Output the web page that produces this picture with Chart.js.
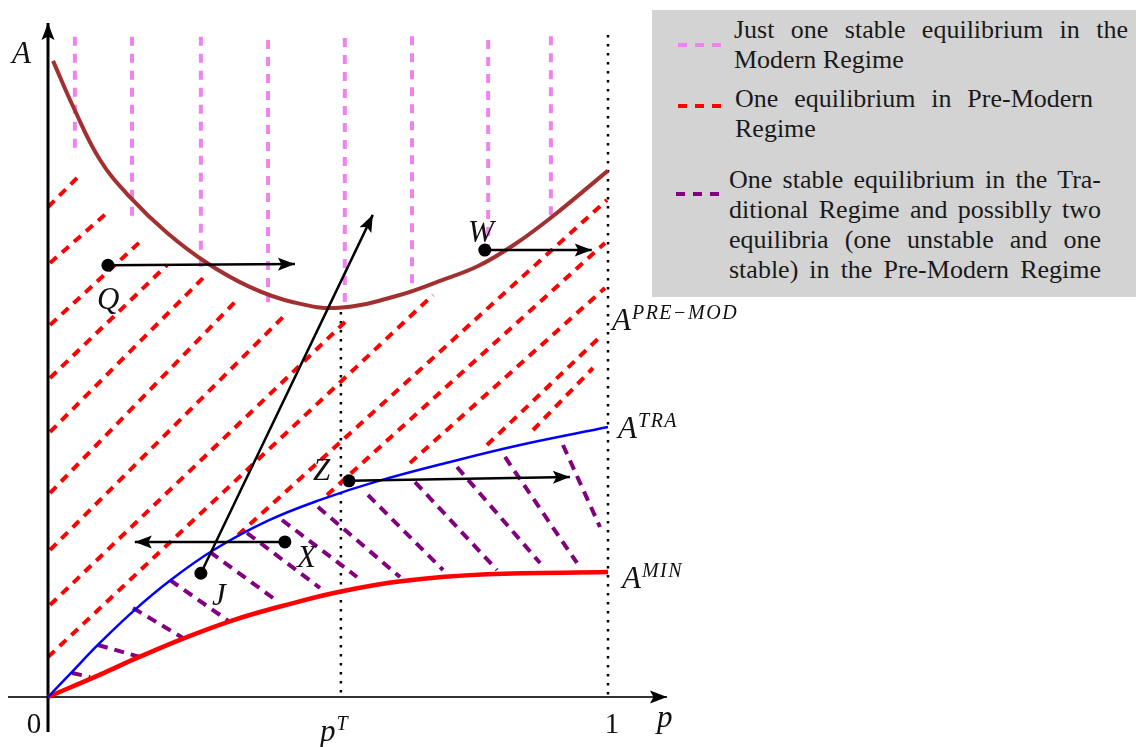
<!DOCTYPE html>
<html>
<head>
<meta charset="utf-8">
<title>Equilibria in the (p, A) plane</title>
<script src="https://cdn.jsdelivr.net/npm/chart.js@4.4.1/dist/chart.umd.min.js"></script>
<style>
  html, body { margin: 0; background: #fff; }
  #wrap { position: relative; width: 1136px; height: 747px; }
  #legend {
    position: absolute; left: 652px; top: 10px; width: 484px; height: 287px;
    background: #d3d3d3; color: #1a1a1a;
    font-family: "Liberation Serif", "Times New Roman", Times, serif; font-size: 26px; line-height: 30px;
  }
  .item { position: absolute; }
  .item div { white-space: nowrap; }
  .item div.j { text-align: justify; text-align-last: justify; white-space: normal; }
  .sample { position: absolute; width: 44px; height: 4px; }
</style>
</head>
<body>
<div id="wrap">
  <canvas id="c" width="1136" height="747"></canvas>
  <div id="legend"></div>
</div>
<script>
// ---- data (p on x, A on y) ----
const brownP = [0.009, 0.045, 0.093, 0.146, 0.2125, 0.284, 0.361, 0.438, 0.52, 0.625, 0.70, 0.769, 0.833, 0.902, 1.0];
const brownA = [1.136, 1.054, 0.959, 0.893, 0.829, 0.775, 0.732, 0.705, 0.695, 0.717, 0.743, 0.770, 0.808, 0.859, 0.94];

const blueP = [0, 0.043, 0.089, 0.152, 0.218, 0.295, 0.391, 0.486, 0.5875, 0.723, 0.843, 1.0];
const blueA = [0, 0.045, 0.093, 0.153, 0.208, 0.262, 0.314, 0.352, 0.385, 0.421, 0.450, 0.482];

const minP = [0, 0.093, 0.164, 0.248, 0.330, 0.420, 0.521, 0.634, 0.784, 1.0];
const minA = [0, 0.040, 0.072, 0.107, 0.137, 0.163, 0.188, 0.207, 0.219, 0.223];

// pink verticals: p, top A, bottom A
const pinkP      = [0.048, 0.15, 0.273, 0.393, 0.530, 0.65, 0.786, 0.898];
const pinkTop    = [1.179, 1.179, 1.179, 1.173, 1.177, 1.18, 1.173, 1.18];
const pinkBottom = [0.977, 0.852, 0.759, 0.705, 0.700, 0.730, 0.786, 0.852];

// red hatch segments [p0, A0, p1, A1]
const redHatch = [
  [0.0, 0.875, 0.0536, 0.9286],
  [0.0036, 0.775, 0.1071, 0.8661],
  [0.0036, 0.6643, 0.1679, 0.8161],
  [0.0036, 0.5696, 0.2125, 0.7714],
  [0.0036, 0.4732, 0.2768, 0.7482],
  [0.0036, 0.3643, 0.3339, 0.7054],
  [0.0036, 0.2625, 0.4232, 0.6821],
  [0.0036, 0.1643, 0.5304, 0.6696],
  [0.0, 0.0714, 0.6875, 0.7179],
  [0.3393, 0.2893, 0.9982, 0.8875],
  [0.4982, 0.3607, 0.9946, 0.8107],
  [0.6464, 0.4179, 0.9946, 0.7304],
  [0.7839, 0.4500, 0.9893, 0.6464],
  [0.8661, 0.4768, 0.9732, 0.5875],
];

// purple hatch segments [p0, A0, p1, A1]
const purpleHatch = [
  [0.0429, 0.0429, 0.075, 0.0357],
  [0.0893, 0.0929, 0.1643, 0.0714],
  [0.1518, 0.1589, 0.2411, 0.1054],
  [0.2179, 0.2089, 0.325, 0.1339],
  [0.2893, 0.2589, 0.4018, 0.1768],
  [0.3554, 0.2929, 0.4857, 0.1946],
  [0.4179, 0.3161, 0.5518, 0.2143],
  [0.4821, 0.3393, 0.6286, 0.2143],
  [0.5714, 0.3607, 0.7054, 0.2268],
  [0.6554, 0.3839, 0.8018, 0.2268],
  [0.7304, 0.4107, 0.8786, 0.2393],
  [0.8161, 0.4286, 0.9446, 0.2393],
  [0.9196, 0.4500, 0.9857, 0.3036],
];

// dotted guides [p, A top, A bottom]
const guides = [[0.523, 0.6875, 0], [1.0, 1.182, 0]];

// moves: start dot -> arrow tip
const moves = [
  [0.273, 0.221, 0.580, 0.861],   // J
  [0.107, 0.771, 0.441, 0.773],   // Q
  [0.780, 0.798, 0.971, 0.798],   // W
  [0.5375, 0.386, 0.932, 0.393],  // Z
  [0.423, 0.277, 0.155, 0.277],   // X
];

const mathLabels = [
  { t: "A", p: -0.0643, a: 1.132 },
  { t: "Q", p: 0.0875, a: 0.693 },
  { t: "W", p: 0.750, a: 0.8125 },
  { t: "Z", p: 0.473, a: 0.3875 },
  { t: "X", p: 0.4446, a: 0.232 },
  { t: "J", p: 0.293, a: 0.164 },
  { t: "A", sup: "PRE\u2212MOD", p: 1.0071, a: 0.655 },
  { t: "A", sup: "TRA", p: 1.018, a: 0.4625 },
  { t: "A", sup: "MIN", p: 1.025, a: 0.1946 },
  { t: "p", sup: "T", p: 0.4857, a: -0.0786 },
  { t: "p", p: 1.0875, a: -0.0536 },
];
const tickLabels = [{ t: "0", p: -0.025, a: -0.0643 }, { t: "1", p: 1.0071, a: -0.0643 }];

const legendText = [
  ["Just one stable equilibrium in the", "Modern Regime"],
  ["One equilibrium in Pre-Modern", "Regime"],
  ["One stable equilibrium in the Tra-", "ditional Regime and possiblly two",
   "equilibria (one unstable and one", "stable) in the Pre-Modern Regime"],
];

const C = { pink: "#ee82ee", red: "#ff0000", purple: "#800080", blue: "#0000ff", brown: "#a33030", ink: "#000" };
const SERIF = '"Liberation Serif", "Times New Roman", Times, serif';

// ---- datasets, listed bottom -> top ----
const xy = (ps, as) => ps.map((p, i) => ({ x: p, y: as[i] }));
function line(data, color, width, dash, extra) {
  return Object.assign({
    data, showLine: true, borderColor: color, borderWidth: width, borderDash: dash || [],
    pointRadius: 0, fill: false, clip: false, tension: 0,
  }, extra || {});
}
const curve = { tension: 0.4 };

const layers = [];
guides.forEach(g => layers.push(line([{ x: g[0], y: g[1] }, { x: g[0], y: g[2] }], C.ink, 2.5, [2.5, 6.5])));
pinkP.forEach((p, i) => layers.push(line([{ x: p, y: pinkTop[i] }, { x: p, y: pinkBottom[i] }], C.pink, 4, [9, 8])));
redHatch.forEach(s => layers.push(line([{ x: s[0], y: s[1] }, { x: s[2], y: s[3] }], C.red, 4, [9, 7])));
purpleHatch.forEach(s => layers.push(line([{ x: s[0], y: s[1] }, { x: s[2], y: s[3] }], C.purple, 4, [10, 7])));
layers.push(line([{ x: -0.0714, y: 0 }, { x: 1.1054, y: 0 }], "#333", 2, null, { arrowHead: true }));
layers.push(line([{ x: 0, y: -0.0625 }, { x: 0, y: 1.2036 }], C.ink, 3, null, { arrowHead: true }));
layers.push(line(xy(minP, minA), C.red, 4.5, null, curve));
layers.push(line(xy(blueP, blueA), C.blue, 2.5, null, curve));
layers.push(line(xy(brownP, brownA), C.brown, 4, null, curve));
moves.forEach(m => layers.push(line([{ x: m[0], y: m[1] }, { x: m[2], y: m[3] }], C.ink, 2.5, null, {
  arrowHead: true, pointRadius: [6.5, 0], pointBackgroundColor: C.ink, pointBorderWidth: 0,
})));
layers.forEach((d, i) => { d.order = layers.length - i; });

// ---- plugins ----
const arrowHeads = {
  id: "arrowHeads",
  afterDatasetsDraw(chart) {
    const ctx = chart.ctx;
    chart.data.datasets.forEach((ds, i) => {
      if (!ds.arrowHead) return;
      const pts = chart.getDatasetMeta(i).data;
      const a = pts[pts.length - 2], b = pts[pts.length - 1];
      const ang = Math.atan2(b.y - a.y, b.x - a.x);
      const len = 17, half = 6.5, c = Math.cos(ang), s = Math.sin(ang);
      ctx.save();
      ctx.fillStyle = "#000";
      ctx.beginPath();
      ctx.moveTo(b.x, b.y);
      ctx.lineTo(b.x - len * c + half * s, b.y - len * s - half * c);
      ctx.lineTo(b.x - len * c * 0.8, b.y - len * s * 0.8);
      ctx.lineTo(b.x - len * c - half * s, b.y - len * s + half * c);
      ctx.closePath();
      ctx.fill();
      ctx.restore();
    });
  },
};

const textLabels = {
  id: "textLabels",
  afterDraw(chart) {
    const { ctx, scales: { x, y } } = chart;
    ctx.save();
    ctx.fillStyle = "#111";
    ctx.textBaseline = "alphabetic";
    mathLabels.forEach(l => {
      const px = x.getPixelForValue(l.p), py = y.getPixelForValue(l.a);
      ctx.textAlign = "left";
      ctx.letterSpacing = "0px";
      ctx.font = "italic 31px " + SERIF;
      ctx.fillText(l.t, px, py);
      if (l.sup) {
        const w = ctx.measureText(l.t).width;
        ctx.font = "italic 20px " + SERIF;
        ctx.letterSpacing = "1.5px";
        ctx.fillText(l.sup, px + w + 1, py - 11);
      }
    });
    ctx.letterSpacing = "0px";
    ctx.font = "29px " + SERIF;
    ctx.textAlign = "center";
    tickLabels.forEach(l => ctx.fillText(l.t, x.getPixelForValue(l.p), y.getPixelForValue(l.a)));
    ctx.restore();
  },
};

new Chart(document.getElementById("c"), {
  type: "scatter",
  data: { datasets: layers },
  options: {
    responsive: false, animation: false, events: [],
    layout: { padding: 0, autoPadding: false },
    plugins: { legend: { display: false }, tooltip: { enabled: false } },
    scales: {
      x: { type: "linear", display: false, min: -48 / 560, max: 1088 / 560 },
      y: { type: "linear", display: false, min: -50 / 560, max: 697 / 560 },
    },
  },
  plugins: [arrowHeads, textLabels],
});

// ---- legend box ----
const legendColors = [C.pink, C.red, C.purple];
const legendLayout = [
  { top: 5, left: 82, width: 394, sampleTop: 33, sampleLeft: 26 },
  { top: 74, left: 83, width: 358, sampleTop: 94, sampleLeft: 26 },
  { top: 155, left: 77, width: 372, sampleTop: 182, sampleLeft: 24 },
];
const box = document.getElementById("legend");
legendText.forEach((lines, i) => {
  const L = legendLayout[i];
  const s = document.createElement("div");
  s.className = "sample";
  s.style.left = L.sampleLeft + "px";
  s.style.top = L.sampleTop + "px";
  s.style.background = `repeating-linear-gradient(90deg, ${legendColors[i]} 0 9px, transparent 9px 17px)`;
  box.appendChild(s);
  const t = document.createElement("div");
  t.className = "item";
  t.style.left = L.left + "px";
  t.style.top = L.top + "px";
  t.style.width = L.width + "px";
  t.innerHTML = lines.map((ln, k) => {
    const just = i === 2 || k < lines.length - 1;
    return `<div class="${just ? "j" : ""}">${ln}</div>`;
  }).join("");
  box.appendChild(t);
});
</script>
</body>
</html>
